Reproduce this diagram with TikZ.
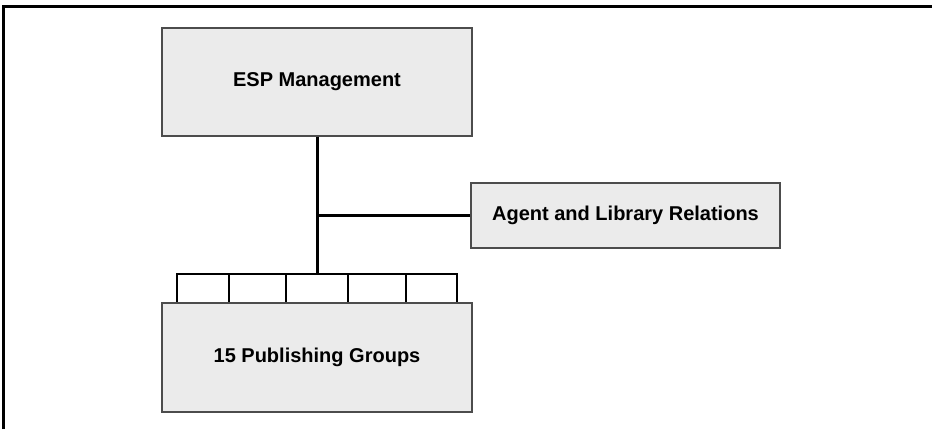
\documentclass[tikz,border=0pt]{standalone}
\usepackage{fontspec}
\setmainfont{Liberation Sans}
\begin{document}
\begin{tikzpicture}[x=1pt,y=1pt,
  orgbox/.style={draw=black!70,line width=1.3pt,fill=black!8,minimum width=310pt,inner sep=0pt,font=\fontsize{20}{24}\selectfont\bfseries},
  conn/.style={line width=3pt,black},
  comb/.style={line width=2.4pt,black}]
\useasboundingbox (0,0) rectangle (932,429);
\draw[line width=3pt] (3,0) -- (3,422) -- (932,422);
\node[orgbox,minimum height=108pt] (esp) at (317,347) {ESP Management};
\node[orgbox,minimum width=309pt,minimum height=65pt] (alr) at (625.5,213.5) {Agent and Library Relations};
\node[orgbox,minimum height=109pt] (pg) at (317,71.5) {15 Publishing Groups};
\coordinate (hub) at (317,155);
\coordinate (mid) at (317,213.5);
\draw[conn] (esp.south) -- (hub);
\draw[conn] (mid) -- (alr.west);
\coordinate (c1) at (177,155);
\coordinate (c2) at (229,155);
\coordinate (c3) at (286,155);
\coordinate (c4) at (348,155);
\coordinate (c5) at (406,155);
\coordinate (c6) at (457,155);
\draw[comb,line cap=rect] (c1) -- (c6);
\foreach \c in {c1,c2,c3,c4,c5,c6}
  \draw[comb] (\c) -- (\c |- pg.north);
\end{tikzpicture}
\end{document}
